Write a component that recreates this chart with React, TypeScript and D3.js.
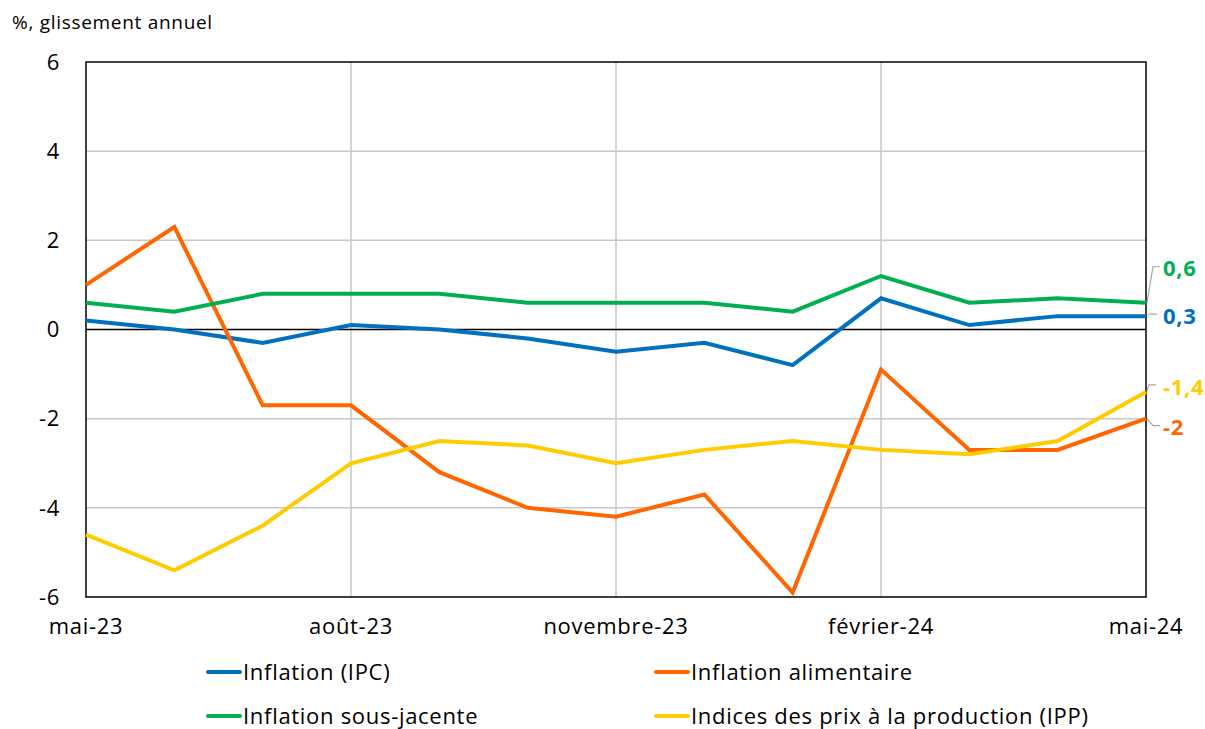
import React from "react";
import * as d3 from "d3";

const months = ["mai-23","juin-23","juil-23","août-23","sept-23","oct-23","novembre-23","déc-23","janv-24","février-24","mars-24","avr-24","mai-24"];
const tickMonths = [0, 3, 6, 9, 12];
const yTicks = [-6, -4, -2, 0, 2, 4, 6];

const ipc = [0.2, 0.0, -0.3, 0.1, 0.0, -0.2, -0.5, -0.3, -0.8, 0.7, 0.1, 0.3, 0.3];
const alim = [1.0, 2.3, -1.7, -1.7, -3.2, -4.0, -4.2, -3.7, -5.9, -0.9, -2.7, -2.7, -2.0];
const core = [0.6, 0.4, 0.8, 0.8, 0.8, 0.6, 0.6, 0.6, 0.4, 1.2, 0.6, 0.7, 0.6];
const ipp = [-4.6, -5.4, -4.4, -3.0, -2.5, -2.6, -3.0, -2.7, -2.5, -2.7, -2.8, -2.5, -1.4];

const seriesNames = ["Inflation (IPC)", "Inflation alimentaire", "Inflation sous-jacente", "Indices des prix à la production (IPP)"];
const colors = ["#0070C0", "#FF6600", "#00B050", "#FFCC00"];
const endLabels = ["0,3", "-2", "0,6", "-1,4"];

const W = 1205, H = 729;
const L = 86, R = 1146, T = 62, B = 597;
const FONT = "'Open Sans', 'Noto Sans', sans-serif";
const LS = 0.7;

export default function App() {
  const x = d3.scaleLinear().domain([0, 12]).range([L, R]);
  const y = d3.scaleLinear().domain([-6, 6]).range([B, T]);
  const line = d3.line<number>().x((_, i) => x(i)).y((d) => y(d));
  const data = [ipc, alim, core, ipp];

  const last = (a: number[]) => a[a.length - 1];
  const labelSpecs = [
    { s: 0, ly: y(last(ipc)) - 2, path: (py: number, ly: number) => `M${R + 2},${ly} L${R + 11},${ly}` },
    { s: 1, ly: y(last(alim)) + 7, path: (py: number, ly: number) => `M${R + 1},${py} L${R + 7},${ly} L${R + 14},${ly}` },
    { s: 2, ly: y(last(core)) - 36, path: (py: number, ly: number) => `M${R + 1},${py} L${R + 7},${ly} L${R + 14},${ly}` },
    { s: 3, ly: y(last(ipp)) - 7, path: (py: number, ly: number) => `M${R + 1},${py - 1} L${R + 3},${ly} L${R + 10},${ly}` },
  ];

  return (
    <svg width={W} height={H} style={{ display: "block", position: "absolute", left: 0, top: 0 }} fontFamily={FONT}>
      <rect width={W} height={H} fill="#fff" />
      <text x={12} y={29} fontSize={19} letterSpacing={LS} fill="#000">%, glissement annuel</text>
      {yTicks.filter((t) => t !== 0 && t !== 6 && t !== -6).map((t) => (
        <line key={"gy" + t} x1={L} x2={R} y1={y(t)} y2={y(t)} stroke="#C8C8C8" strokeWidth={1.5} />
      ))}
      {tickMonths.filter((m) => m !== 0 && m !== 12).map((m) => (
        <line key={"gx" + m} x1={x(m)} x2={x(m)} y1={T} y2={B} stroke="#C8C8C8" strokeWidth={1.5} />
      ))}
      <line x1={L} x2={R} y1={y(0)} y2={y(0)} stroke="#000" strokeWidth={1.3} />
      <rect x={L} y={T} width={R - L} height={B - T} fill="none" stroke="#000" strokeWidth={1.5} />
      {yTicks.map((t) => (
        <text key={"yt" + t} x={60} y={y(t)} dy="0.35em" textAnchor="end" fontSize={22} letterSpacing={LS} fill="#000">{t}</text>
      ))}
      {tickMonths.map((m) => (
        <text key={"xt" + m} x={x(m)} y={626} dy="0.35em" textAnchor="middle" fontSize={22} letterSpacing={LS} fill="#000">{months[m]}</text>
      ))}
      {data.map((d, i) => (
        <path key={"s" + i} d={line(d) || ""} fill="none" stroke={colors[i]} strokeWidth={4} strokeLinejoin="miter" />
      ))}
      {labelSpecs.map((sp) => {
        const py = y(last(data[sp.s]));
        return (
          <g key={"lab" + sp.s}>
            <path d={sp.path(py, sp.ly)} fill="none" stroke="#A6A6A6" strokeWidth={1.2} />
            <text x={R + 17} y={sp.ly + 2} dy="0.35em" fontSize={22} letterSpacing={LS} fontWeight="bold" fill={colors[sp.s]}>{endLabels[sp.s]}</text>
          </g>
        );
      })}
      {seriesNames.map((n, i) => {
        const col = i % 2 === 0 ? 0 : 1;
        const row = Math.floor(i / 2);
        const lx = col === 0 ? 208 : 656;
        const ly = 672 + row * 44;
        return (
          <g key={"lg" + i}>
            <line x1={lx} x2={lx + 32} y1={ly} y2={ly} stroke={colors[i]} strokeWidth={4} strokeLinecap="round" />
            <text x={lx + 35} y={ly} dy="0.35em" fontSize={22} letterSpacing={LS} fill="#000">{n}</text>
          </g>
        );
      })}
    </svg>
  );
}
